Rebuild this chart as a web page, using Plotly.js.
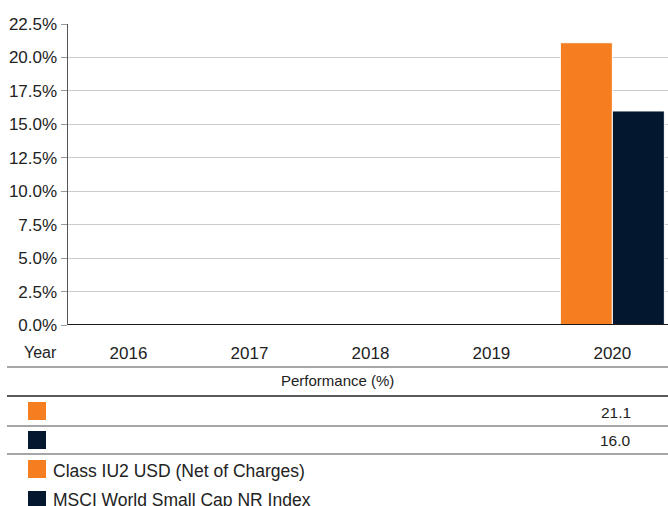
<!DOCTYPE html>
<html><head><meta charset="utf-8">
<script src="https://cdn.plot.ly/plotly-3.0.1.min.js"></script>
<style>html,body{margin:0;padding:0;overflow:hidden;background:#fff}</style>
</head><body><div id="chart" style="width:668px;height:506px"></div>
<script>
var years = ['2016','2017','2018','2019','2020'];
var fundName = 'Class IU2 USD (Net of Charges)';
var indexName = 'MSCI World Small Cap NR Index';
var fundValues = [null, null, null, null, 21.1];
var indexValues = [null, null, null, null, 16.0];
var yTickVals = [0, 2.5, 5, 7.5, 10, 12.5, 15, 17.5, 20, 22.5];

var ORANGE = '#F47E20', NAVY = '#03182E', TXT = '#222222';
var FONT = 'Liberation Sans, Arial, sans-serif';

var W = 668, H = 506, L = 68, R = 0, T = 24, B = 181;
var pw = W - L - R, ph = H - T - B;
function px(q){ return (q - L) / pw; }
function py(p){ return (H - B - p) / ph; }

var traces = [
  {type:'bar', x: years.map(function(_,i){return i;}), y: fundValues, name: fundName,
   marker:{color: ORANGE, line:{color:'#ffffff', width:1}}, hoverinfo:'skip'},
  {type:'bar', x: years.map(function(_,i){return i;}), y: indexValues, name: indexName,
   marker:{color: NAVY, line:{color:'#ffffff', width:1}}, hoverinfo:'skip'}
];

var shapes = [];
var annotations = [];
function hline(p, color, w){
  shapes.push({type:'line', xref:'paper', yref:'paper', x0: px(7), x1: px(668), y0: py(p), y1: py(p),
    line:{color: color, width: w}});
}
hline(367, '#8a8a8a', 1.5);
hline(396, '#222222', 1.5);
hline(426, '#8a8a8a', 1.5);
hline(454, '#8a8a8a', 1.5);
// zero line emphasized
shapes.push({type:'line', xref:'paper', yref:'y', x0:0, x1:1, y0:0, y1:0, line:{color:'#1a1a1a', width:2}});

function square(x0, y0, size, color){
  shapes.push({type:'rect', xref:'paper', yref:'paper', x0: px(x0), x1: px(x0+size),
    y0: py(y0+size), y1: py(y0), fillcolor: color, line:{width:0}});
}
square(28, 402, 18, ORANGE);
square(28, 431, 18, NAVY);
square(28, 460, 18, ORANGE);
square(28, 491, 18, NAVY);

annotations.push({xref:'paper', yref:'paper', x: px(40), y: py(352), text:'Year', showarrow:false,
  xanchor:'center', yanchor:'middle', font:{family:FONT, size:16, color:TXT}});
annotations.push({xref:'paper', yref:'paper', x: px(337), y: py(381), text:'Performance (%)', showarrow:false,
  xanchor:'center', yanchor:'middle', font:{family:FONT, size:15, color:TXT}});

function rowValues(vals, yc){
  vals.forEach(function(v, i){
    if (v === null) return;
    annotations.push({xref:'x', yref:'paper', x: i, xshift: 21, y: py(yc), text: v.toFixed(1),
      showarrow:false, xanchor:'right', yanchor:'middle', font:{family:FONT, size:15.5, color:TXT}});
  });
}
rowValues(fundValues, 412);
rowValues(indexValues, 440);

annotations.push({xref:'paper', yref:'paper', x: px(51), y: py(471), text: fundName, showarrow:false,
  xanchor:'left', yanchor:'middle', font:{family:FONT, size:17.5, color:TXT}});
annotations.push({xref:'paper', yref:'paper', x: px(51), y: py(500), text: indexName, showarrow:false,
  xanchor:'left', yanchor:'middle', font:{family:FONT, size:17.5, color:TXT}});

var layout = {
  width: W, height: H,
  margin:{l:L, r:R, t:T, b:B, pad:0},
  paper_bgcolor:'#fff', plot_bgcolor:'#fff',
  showlegend:false,
  barmode:'group', bargap:0.14, bargroupgap:0,
  xaxis:{type:'linear', range:[-0.5, 4.46], tickmode:'array', tickvals: years.map(function(_,i){return i;}),
    ticktext: years, ticks:'outside', ticklen:13, tickcolor:'rgba(0,0,0,0)', showgrid:false, zeroline:false,
    showline:false, tickfont:{family:FONT, size:17, color:TXT}, fixedrange:true},
  yaxis:{range:[0, 22.5], tickmode:'array', tickvals: yTickVals,
    ticktext: yTickVals.map(function(v){return v.toFixed(1)+'%';}),
    ticks:'outside', ticklen:6, tickcolor:'#999', tickwidth:1,
    showgrid:true, gridcolor:'#cccccc', gridwidth:1, zeroline:false,
    showline:true, linecolor:'#555', linewidth:1.5,
    tickfont:{family:FONT, size:17, color:TXT}, fixedrange:true},
  shapes: shapes,
  annotations: annotations
};
Plotly.newPlot('chart', traces, layout, {staticPlot:true, displayModeBar:false});
</script></body></html>
